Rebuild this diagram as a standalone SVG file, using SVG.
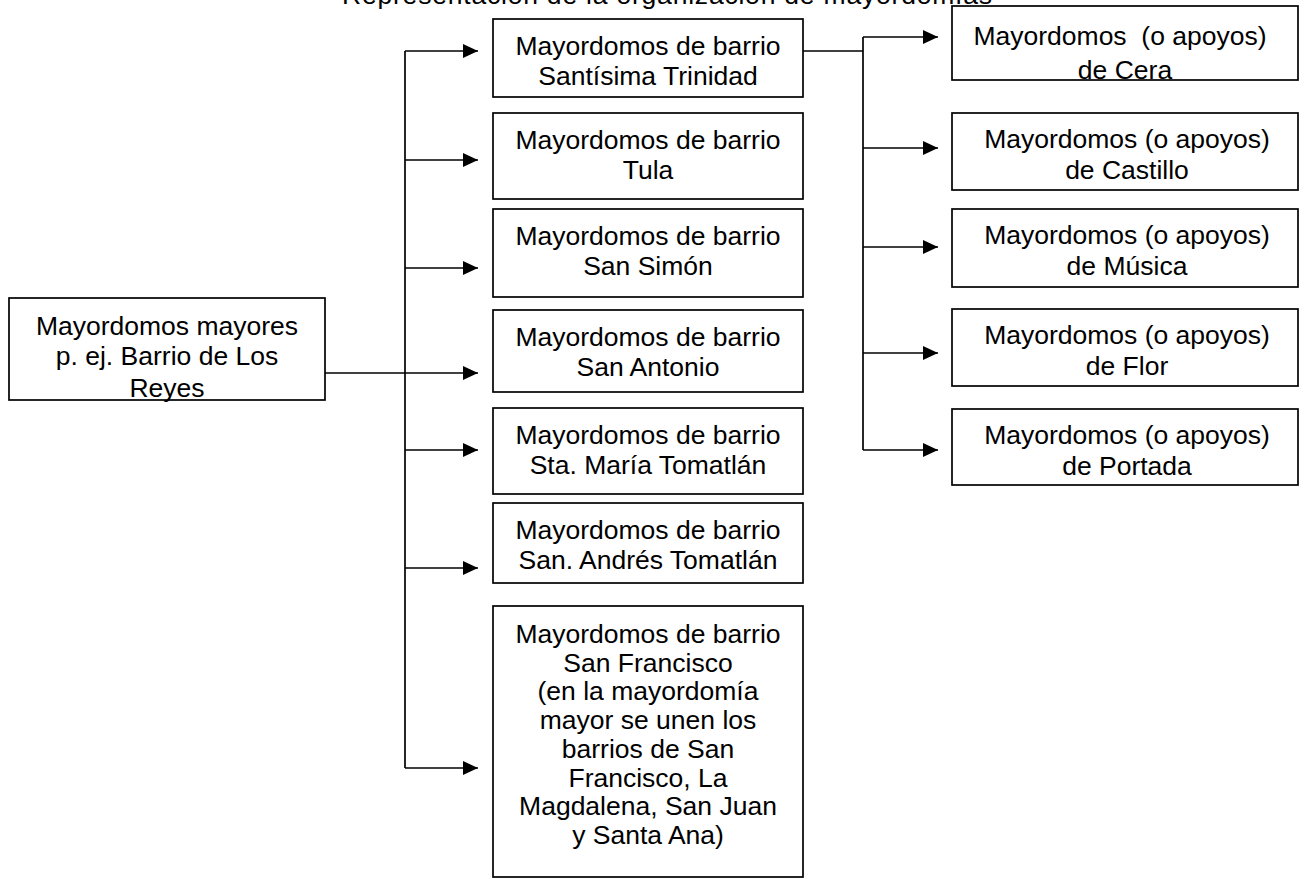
<svg xmlns="http://www.w3.org/2000/svg" width="1305" height="879" viewBox="0 0 1305 879">
<defs>
<marker id="ah" markerUnits="userSpaceOnUse" markerWidth="16" markerHeight="14" refX="15" refY="7" orient="auto">
<path d="M0,0 L15,7 L0,14 Z" fill="#000"/>
</marker>
<style>
.box{fill:#fff;stroke:#000;stroke-width:1.7}
.t{font-family:"Liberation Sans",Arial,sans-serif;font-size:26.5px;fill:#000;text-anchor:middle}
.c{fill:none;stroke:#000;stroke-width:1.7}
.a{fill:none;stroke:#000;stroke-width:1.7;marker-end:url(#ah)}
</style>
</defs>
<rect width="1305" height="879" fill="#fff"/>
<text class="t" x="342" y="4" style="text-anchor:start" textLength="650" lengthAdjust="spacing">Representación de la organización de mayordomías</text>

<g id="connectors">
<line class="c" x1="405" y1="51" x2="405" y2="768"/>
<line class="a" x1="405" y1="51" x2="478" y2="51"/>
<line class="a" x1="405" y1="160" x2="478" y2="160"/>
<line class="a" x1="405" y1="268" x2="478" y2="268"/>
<line class="a" x1="325" y1="373" x2="478" y2="373"/>
<line class="a" x1="405" y1="450" x2="478" y2="450"/>
<line class="a" x1="405" y1="568" x2="478" y2="568"/>
<line class="a" x1="405" y1="768" x2="478" y2="768"/>
<line class="c" x1="803" y1="51" x2="863" y2="51"/>
<line class="c" x1="863" y1="37" x2="863" y2="450"/>
<line class="a" x1="863" y1="37" x2="938" y2="37"/>
<line class="a" x1="863" y1="148" x2="938" y2="148"/>
<line class="a" x1="863" y1="247" x2="938" y2="247"/>
<line class="a" x1="863" y1="353" x2="938" y2="353"/>
<line class="a" x1="863" y1="450" x2="938" y2="450"/>
</g>

<g id="n-mayores">
<rect class="box" x="9" y="298" width="316" height="102"/>
<text class="t" x="167" y="335">Mayordomos mayores</text>
<text class="t" x="167" y="365">p. ej. Barrio de Los</text>
<text class="t" x="167" y="397">Reyes</text>
</g>

<g id="n-trinidad">
<rect class="box" x="493" y="19" width="310" height="78"/>
<text class="t" x="648" y="55">Mayordomos de barrio</text>
<text class="t" x="648" y="85">Santísima Trinidad</text>
</g>
<g id="n-tula">
<rect class="box" x="493" y="113" width="310" height="86"/>
<text class="t" x="648" y="149">Mayordomos de barrio</text>
<text class="t" x="648" y="179">Tula</text>
</g>
<g id="n-simon">
<rect class="box" x="493" y="209" width="310" height="88"/>
<text class="t" x="648" y="245">Mayordomos de barrio</text>
<text class="t" x="648" y="275">San Simón</text>
</g>
<g id="n-antonio">
<rect class="box" x="493" y="310" width="310" height="82"/>
<text class="t" x="648" y="346">Mayordomos de barrio</text>
<text class="t" x="648" y="376">San Antonio</text>
</g>
<g id="n-maria">
<rect class="box" x="493" y="408" width="310" height="86"/>
<text class="t" x="648" y="444">Mayordomos de barrio</text>
<text class="t" x="648" y="474">Sta. María Tomatlán</text>
</g>
<g id="n-andres">
<rect class="box" x="493" y="503" width="310" height="80"/>
<text class="t" x="648" y="539">Mayordomos de barrio</text>
<text class="t" x="648" y="569">San. Andrés Tomatlán</text>
</g>
<g id="n-francisco">
<rect class="box" x="493" y="606" width="310" height="271"/>
<text class="t" x="648" y="643">Mayordomos de barrio</text>
<text class="t" x="648" y="672">San Francisco</text>
<text class="t" x="648" y="700">(en la mayordomía</text>
<text class="t" x="648" y="729">mayor se unen los</text>
<text class="t" x="648" y="758">barrios de San</text>
<text class="t" x="648" y="787">Francisco, La</text>
<text class="t" x="648" y="815">Magdalena, San Juan</text>
<text class="t" x="648" y="844">y Santa Ana)</text>
</g>

<g id="n-cera">
<rect class="box" x="952" y="6" width="346" height="74"/>
<text class="t" x="1120" y="45" xml:space="preserve">Mayordomos  (o apoyos)</text>
<text class="t" x="1125" y="79">de Cera</text>
</g>
<g id="n-castillo">
<rect class="box" x="952" y="113" width="346" height="77"/>
<text class="t" x="1127" y="148">Mayordomos (o apoyos)</text>
<text class="t" x="1127" y="179">de Castillo</text>
</g>
<g id="n-musica">
<rect class="box" x="952" y="209" width="346" height="78"/>
<text class="t" x="1127" y="244">Mayordomos (o apoyos)</text>
<text class="t" x="1127" y="275">de Música</text>
</g>
<g id="n-flor">
<rect class="box" x="952" y="309" width="346" height="77"/>
<text class="t" x="1127" y="344">Mayordomos (o apoyos)</text>
<text class="t" x="1127" y="375">de Flor</text>
</g>
<g id="n-portada">
<rect class="box" x="952" y="409" width="346" height="76"/>
<text class="t" x="1127" y="444">Mayordomos (o apoyos)</text>
<text class="t" x="1127" y="475">de Portada</text>
</g>
</svg>
